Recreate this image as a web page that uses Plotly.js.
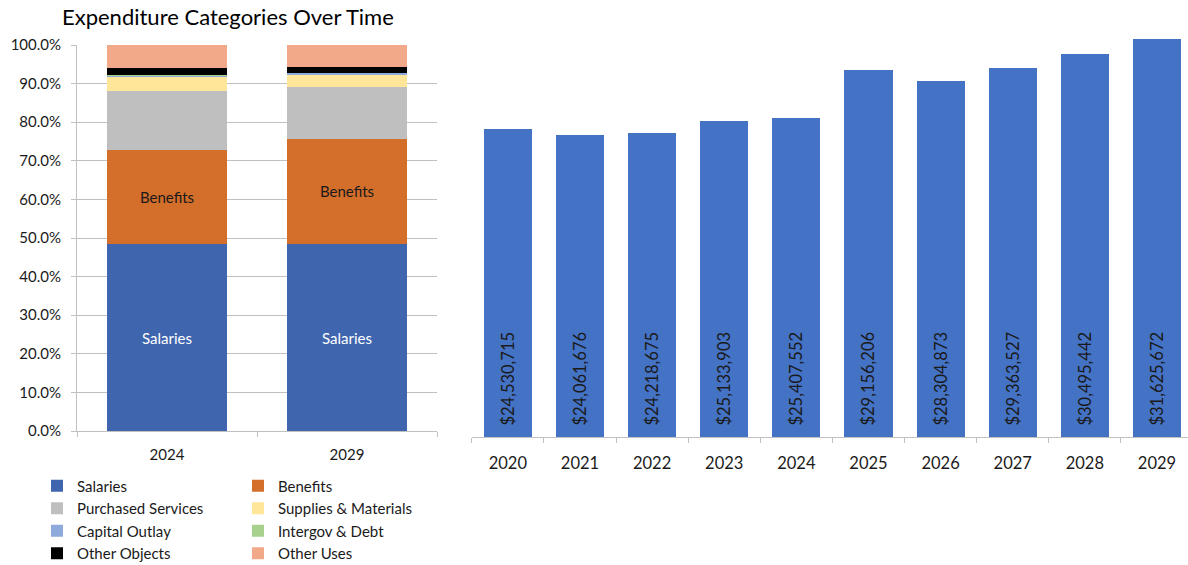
<!DOCTYPE html>
<html>
<head>
<meta charset="utf-8">
<script src="https://cdn.plot.ly/plotly-3.0.1.min.js"></script>
<style>
  html, body { margin: 0; padding: 0; background: #ffffff; overflow: hidden; }
  #chart { width: 1188px; height: 565px; }
</style>
</head>
<body>
<div id="chart"></div>
<script>
// ---- Data (left: category share of expenditures, %) ----
const shareYears = ['2024', '2029'];
const salaries = [48.4, 48.4];
const benefits = [24.4, 27.3];
const purchasedServices = [15.2, 13.5];
const suppliesMaterials = [3.8, 3.1];
const capitalOutlay = [0.05, 0.5];
const intergovDebt = [0.25, 0.05];
const otherObjects = [1.9, 1.5];
const otherUses = [6.0, 5.65];

// ---- Data (right: total expenditures, $) ----
const totalYears = ['2020', '2021', '2022', '2023', '2024', '2025', '2026', '2027', '2028', '2029'];
const totalExpenditures = [24530715, 24061676, 24218675, 25133903, 25407552,
                           29156206, 28304873, 29363527, 30495442, 31625672];

const W = 1188, H = 565;
const FONT = 'Lato, "Open Sans", sans-serif';
const TXT = '#1a1a1a';
const GRID = '#c0c0c0';

const series = [
  { name: 'Salaries', y: salaries, color: '#3f65ae', legend: 'legend', label: true, labelColor: '#ffffff' },
  { name: 'Benefits', y: benefits, color: '#d36e2b', legend: 'legend2', label: true, labelColor: '#1a1a1a' },
  { name: 'Purchased Services', y: purchasedServices, color: '#bfbfbf', legend: 'legend' },
  { name: 'Supplies & Materials', y: suppliesMaterials, color: '#ffe699', legend: 'legend2' },
  { name: 'Capital Outlay', y: capitalOutlay, color: '#8eaadb', legend: 'legend' },
  { name: 'Intergov & Debt', y: intergovDebt, color: '#a9d18e', legend: 'legend2' },
  { name: 'Other Objects', y: otherObjects, color: '#000000', legend: 'legend' },
  { name: 'Other Uses', y: otherUses, color: '#f1a98a', legend: 'legend2' }
];

const traces = series.map(s => ({
  type: 'bar',
  name: s.name,
  x: shareYears,
  y: s.y,
  xaxis: 'x',
  yaxis: 'y',
  legend: s.legend,
  marker: { color: s.color },
  text: s.label ? shareYears.map(() => s.name) : undefined,
  textposition: s.label ? 'inside' : 'none',
  insidetextanchor: 'middle',
  textangle: 0,
  textfont: { family: FONT, size: 15, color: s.labelColor || TXT },
  hoverinfo: 'name+y'
}));

traces.push({
  type: 'bar',
  name: 'Total Expenditures',
  x: totalYears,
  y: totalExpenditures,
  xaxis: 'x2',
  yaxis: 'y2',
  showlegend: false,
  marker: { color: '#4472c4' },
  texttemplate: '\u00a0\u00a0$%{y:,.0f}',
  textposition: 'inside',
  insidetextanchor: 'start',
  textangle: -90,
  textfont: { family: FONT, size: 16.5, color: TXT },
  hoverinfo: 'x+y'
});

const layout = {
  width: W,
  height: H,
  margin: { l: 0, r: 0, t: 0, b: 0, autoexpand: false },
  paper_bgcolor: '#ffffff',
  plot_bgcolor: 'rgba(0,0,0,0)',
  font: { family: FONT, size: 15, color: TXT },
  barmode: 'stack',
  bargap: 0.333,
  title: {
    text: 'Expenditure Categories Over Time',
    font: { family: FONT, size: 22, color: '#000000' },
    x: 62 / W, xref: 'paper', xanchor: 'left',
    y: 1 - 17 / H, yref: 'container', yanchor: 'middle'
  },
  xaxis: {
    domain: [77 / W, 437 / W],
    anchor: 'y',
    type: 'category',
    showline: true, linecolor: GRID, linewidth: 1,
    ticks: 'outside', tickson: 'boundaries', ticklen: 5, tickcolor: GRID,
    ticklabelstandoff: 10,
    tickfont: { family: FONT, size: 15, color: TXT },
    showgrid: false, zeroline: false, fixedrange: true, automargin: false
  },
  yaxis: {
    domain: [1 - 431 / H, 1 - 45 / H],
    anchor: 'x',
    range: [0, 100],
    dtick: 10,
    tickformat: '.1f', ticksuffix: '%',
    showline: true, linecolor: GRID, linewidth: 1,
    ticks: 'outside', ticklen: 5, tickcolor: GRID,
    ticklabelstandoff: 7,
    showgrid: true, gridcolor: GRID, gridwidth: 1,
    zeroline: false,
    tickfont: { family: FONT, size: 15, color: TXT },
    fixedrange: true, automargin: false
  },
  xaxis2: {
    domain: [471.8 / W, 1],
    anchor: 'y2',
    type: 'category',
    range: [-0.5, 9.43],
    showline: true, linecolor: GRID, linewidth: 1,
    ticks: 'outside', tickson: 'boundaries', ticklen: 5, tickcolor: GRID,
    ticklabelstandoff: 11,
    tickfont: { family: FONT, size: 16.5, color: TXT },
    showgrid: false, zeroline: false, fixedrange: true, automargin: false
  },
  yaxis2: {
    domain: [1 - 437 / H, 1 - 34.7 / H],
    anchor: 'x2',
    range: [0, 32000000],
    visible: false,
    fixedrange: true
  },
  legend: {
    x: 37 / W, y: 1 - 469.5 / H, xanchor: 'left', yanchor: 'top',
    orientation: 'v', bgcolor: 'rgba(0,0,0,0)', borderwidth: 0,
    font: { family: FONT, size: 15, color: TXT },
    traceorder: 'normal', tracegroupgap: 0
  },
  legend2: {
    x: 238 / W, y: 1 - 469.5 / H, xanchor: 'left', yanchor: 'top',
    orientation: 'v', bgcolor: 'rgba(0,0,0,0)', borderwidth: 0,
    font: { family: FONT, size: 15, color: TXT },
    traceorder: 'normal', tracegroupgap: 0
  }
};

Plotly.newPlot('chart', traces, layout, { displayModeBar: false, staticPlot: true });
</script>
</body>
</html>
